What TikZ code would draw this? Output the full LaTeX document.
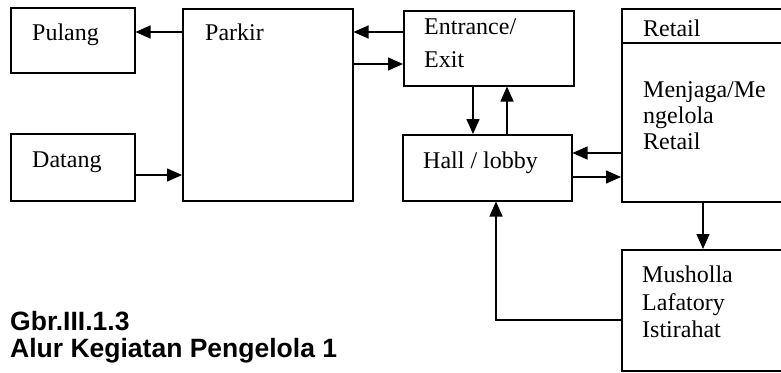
\documentclass[tikz,border=0pt]{standalone}
\usepackage{fontspec}
\setmainfont{Liberation Serif}
\newfontfamily\judulfont{Liberation Sans}
\usetikzlibrary{arrows.meta,positioning}
\tikzset{
kotak/.style={draw,line width=1.5pt,inner sep=0pt,anchor=north west},
teks/.style={anchor=base west,inner sep=0pt,font=\fontsize{24}{27}\selectfont},
judul/.style={anchor=base west,inner sep=0pt,font=\judulfont\bfseries\fontsize{26.5}{28}\selectfont},
panah/.style={line width=1.5pt,-{Triangle[length=15pt,width=13pt]}}
}

\begin{document}
\begin{tikzpicture}[x=1pt,y=-1pt]
\useasboundingbox (0,0) rectangle (781,372);
\clip (0,0) rectangle (781,372);
% kotak
\node[kotak,minimum width=124pt,minimum height=65pt](pulang) at (10,7){};
\node[kotak,minimum width=124pt,minimum height=67pt](datang) at (10,133){};
\node[kotak,minimum width=170pt,minimum height=192pt](parkir) at (182,8){};
\node[kotak,minimum width=170pt,minimum height=75pt](entrance) at (403,10){};
\node[kotak,minimum width=169pt,minimum height=66pt](hall) at (402,134){};
\node[kotak,minimum width=175pt,minimum height=193pt](retail) at (621,8){};
\node[kotak,minimum width=175pt,minimum height=121pt](musholla) at (621,249){};
\draw[line width=1.5pt](retail.west|-0,43)--(retail.east|-0,43);
% teks
\node[teks](tpulang) at (32,40){Pulang};
\node[teks](tdatang) at (32,167){Datang};
\node[teks](tparkir) at (205,40){Parkir};
\node[teks](tentr1) at (424,34){Entrance/};
\node[teks](tentr2) at (424,67){Exit};
\node[teks](thall) at (423,168){Hall / lobby};
\node[teks](tretail) at (643,36){Retail};
\node[teks](tjaga1) at (643,97){Menjaga/Me};
\node[teks](tjaga2) at (643,123){ngelola};
\node[teks](tjaga3) at (643,149){Retail};
\node[teks](tmush1) at (642,282){Musholla};
\node[teks](tmush2) at (642,310){Lafatory};
\node[teks](tmush3) at (642,337){Istirahat};
\node[judul](judul1) at (10,330){Gbr.III.1.3};
\node[judul](judul2) at (10,357){Alur Kegiatan Pengelola 1};
% panah
\draw[panah](parkir.west|-0,32)--(pulang.east|-0,32);
\draw[panah](datang.east|-0,175)--(parkir.west|-0,175);
\draw[panah](entrance.west|-0,32)--(parkir.east|-0,32);
\draw[panah](parkir.east|-0,64)--(entrance.west|-0,64);
\draw[panah](entrance.south-|473,0)--(hall.north-|473,0);
\draw[panah](hall.north-|507,0)--(entrance.south-|507,0);
\draw[panah](retail.west|-0,153)--(hall.east|-0,153);
\draw[panah](hall.east|-0,177)--(retail.west|-0,177);
\draw[panah](retail.south-|703,0)--(musholla.north-|703,0);
\draw[panah](musholla.west|-0,320)-|(hall.south-|496,0);
\end{tikzpicture}
\end{document}
